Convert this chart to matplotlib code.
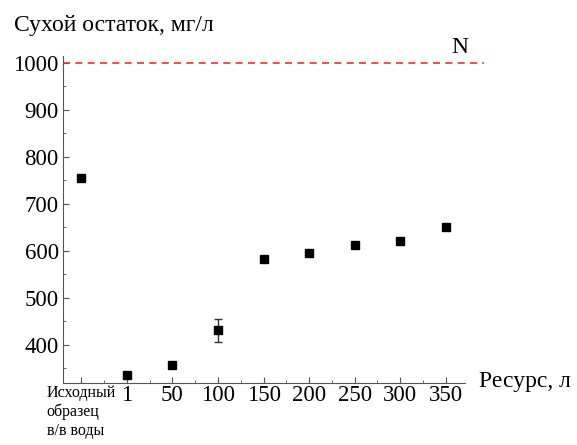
import numpy as np
import matplotlib.pyplot as plt
from matplotlib.ticker import MultipleLocator
import matplotlib.transforms as mtransforms

plt.rcParams['font.family'] = ['Liberation Serif', 'DejaVu Serif']

categories = ['Исходный\nобразец\nв/в воды', '1', '50', '100', '150', '200', '250', '300', '350']
residue = [754, 337, 357, 431, 583, 596, 613, 622, 651]
residue_err = [0, 0, 0, 24, 0, 0, 0, 0, 0]
norm_level = 1000

x = np.arange(len(categories))

fig = plt.figure(figsize=(5.77, 4.45), dpi=100)
ax = fig.add_axes([0.1092, 0.1402, 0.6967, 0.7337])

# норматив N
ax.plot([-0.4, 8.83], [norm_level, norm_level], color='#ff2a2a', lw=1.2,
        ls=(0, (4.2, 3.2)), clip_on=False)
ax.text(8.31, norm_level + 32, 'N', fontsize=17, ha='center', va='center')

err = np.array(residue_err, dtype=float)
ax.errorbar(x, residue, yerr=np.where(err > 0, err, np.nan), fmt='s', color='black',
            ms=5.5, ecolor='#333333', elinewidth=1, capsize=3, capthick=1)

ax.set_xlim(-0.4, 8.42)
ax.set_ylim(320, 1014)
ax.set_xticks(x)
ax.set_xticklabels(categories, fontsize=16.5)
ax.xaxis.set_minor_locator(MultipleLocator(0.5))
ax.yaxis.set_major_locator(MultipleLocator(100))
ax.yaxis.set_minor_locator(MultipleLocator(50))
ax.tick_params(axis='y', labelsize=16.5, pad=3)
ax.tick_params(axis='x', pad=2)

first = ax.get_xticklabels()[0]
first.set_fontsize(11.5)
first.set_multialignment('left')
first.set_linespacing(1.2)
first.set_transform(first.get_transform() + mtransforms.ScaledTranslation(-3 / 100, 0, fig.dpi_scale_trans))

for side in ['top', 'right']:
    ax.spines[side].set_visible(False)
for side in ['left', 'bottom']:
    ax.spines[side].set_color('#555555')
ax.tick_params(which='both', direction='in', color='#555555')
ax.tick_params(which='major', length=4.5)
ax.tick_params(which='minor', length=2.5)

fig.text(14 / 577, 1 - 25 / 445, 'Сухой остаток, мг/л', fontsize=17, va='center', ha='left')
fig.text(479 / 577, 1 - 381 / 445, 'Ресурс, л', fontsize=17, va='center', ha='left')

fig.savefig('out.png', dpi=100)
